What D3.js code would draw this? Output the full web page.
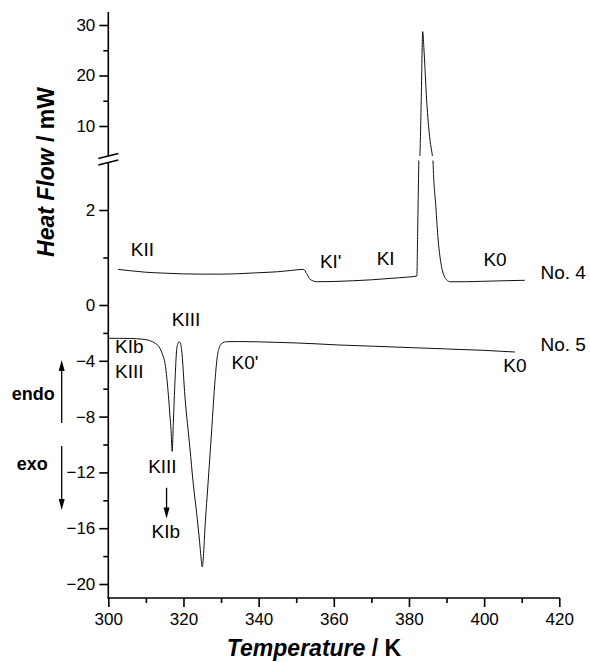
<!DOCTYPE html>
<html>
<head>
<meta charset="utf-8">
<script src="https://cdn.jsdelivr.net/npm/d3@7"></script>
<style>
  body { margin: 0; background: #fff; }
  text { font-family: "Liberation Sans", Arial, sans-serif; fill: #000; }
</style>
</head>
<body>
<div class="canvas"></div>
<script>
// DSC traces (T in K, heat flow in mW)
const tempNo4 = [302.6, 306, 310, 315, 320, 325, 330, 335, 340, 345, 349, 351.9, 352.8, 353.7, 355.5,
  360, 365, 370, 375, 380, 382.1, 382.3, 382.63, 382.9, 383.26, 383.66, 384.0, 384.7, 385.6, 386.2,
  386.4, 387.15, 387.77, 388.67, 390.0, 391, 395, 400, 405, 410.8];
const heatNo4 = [0.75, 0.72, 0.69, 0.67, 0.655, 0.65, 0.65, 0.66, 0.68, 0.70, 0.73, 0.75, 0.66, 0.54, 0.49,
  0.495, 0.51, 0.53, 0.56, 0.59, 0.61, 1.5, 3.05, 4.3, 15, 28.7, 25.0, 15.1, 7.2, 4.26,
  3.05, 2.07, 1.37, 0.81, 0.53, 0.49, 0.49, 0.5, 0.51, 0.52];

const tempNo5 = [300, 303, 306, 309, 311, 312.5, 313.5, 314.5, 315.1, 315.6, 316.0, 316.4, 316.7, 317.0,
  317.3, 317.75, 318.2, 318.6, 318.9, 319.2, 319.5, 320.4, 321.7, 322.6, 323.5, 324.3, 324.65, 325.0,
  325.4, 325.7, 326.6, 327.5, 328.4, 329.0, 329.6, 330.2, 331.5, 335, 340, 345, 350, 355, 361.6,
  370, 380, 390, 400, 408.2];
const heatNo5 = [-2.39, -2.39, -2.40, -2.45, -2.55, -2.75, -3.0, -3.6, -4.2, -5.3, -6.5, -7.9, -9.0, -10.5,
  -8.5, -5.4, -3.2, -2.7, -2.63, -2.75, -3.2, -6.6, -10.2, -12.8, -14.9, -17.0, -18.05, -18.77,
  -17.6, -16.1, -12.55, -9.0, -5.4, -3.7, -3.0, -2.75, -2.63, -2.62, -2.64, -2.68, -2.72, -2.78, -2.87,
  -2.95, -3.05, -3.15, -3.25, -3.37];

const xTicks = [300, 320, 340, 360, 380, 400, 420];
const xMinor = [310, 330, 350, 370, 390, 410];
const yTopTicks = [10, 20, 30];
const yTopMinor = [15, 25];
const yMidTicks = [2];
const yMidMinor = [1];
const yLowTicks = [0, -4, -8, -12, -16, -20];
const yLowMinor = [-2, -6, -10, -14, -18];

const phaseLabels = [
  { text: "KII", t: 306, v: 1.03, s: "mid" },
  { text: "KI'", t: 356.3, v: 0.78, s: "mid" },
  { text: "KI", t: 371.4, v: 0.84, s: "mid" },
  { text: "K0", t: 399.8, v: 0.82, s: "mid" },
  { text: "No. 4", t: 415, v: 0.55, s: "mid" },
  { text: "No. 5", t: 415, v: -3.27, s: "low" },
  { text: "K0", t: 405.1, v: -4.8, s: "low" },
  { text: "KIII", t: 316.9, v: -1.47, s: "low" },
  { text: "K0'", t: 332.8, v: -4.6, s: "low" },
  { text: "KIb", t: 301.8, v: -3.45, s: "low" },
  { text: "KIII", t: 301.8, v: -5.25, s: "low" },
  { text: "KIII", t: 310.6, v: -12.03, s: "low" },
  { text: "KIb", t: 311.5, v: -16.7, s: "low" }
];

const width = 590, height = 662;
const axisTop = 12, breakTop = 156.5, breakBottom = 162, axisBottom = 598;

const svg = d3.select(".canvas").append("svg")
  .attr("width", width)
  .attr("height", height);

const x = d3.scaleLinear().domain([300, 420]).range([108.3, 559.3]);
// three pieces of the y axis: peak part, No. 4 baseline part, No. 5 part
const yTop = d3.scaleLinear().domain([10, 30]).range([126, 25]);
const yMid = d3.scaleLinear().domain([0, 2]).range([305, 210]);
const yLow = d3.scaleLinear().domain([-20, 0]).range([584, 305]);
const yScales = { mid: yMid, low: yLow };

// clip regions either side of the break
const defs = svg.append("defs");
defs.append("clipPath").attr("id", "clipTop")
  .append("rect").attr("x", 0).attr("y", 0).attr("width", width).attr("height", 156);
defs.append("clipPath").attr("id", "clipMid")
  .append("rect").attr("x", 0).attr("y", 160.5).attr("width", width).attr("height", height);

const no4 = tempNo4.map((t, i) => [t, heatNo4[i]]);
const no5 = tempNo5.map((t, i) => [t, heatNo5[i]]);

const lineWith = (ys) => d3.line()
  .x((d) => x(d[0]))
  .y((d) => ys(d[1]))
  .curve(d3.curveMonotoneX);

const curves = svg.append("g")
  .attr("fill", "none")
  .attr("stroke", "#111")
  .attr("stroke-width", 1);

curves.append("path").attr("d", lineWith(yTop)(no4)).attr("clip-path", "url(#clipTop)");
curves.append("path").attr("d", lineWith(yMid)(no4)).attr("clip-path", "url(#clipMid)");
curves.append("path").attr("d", lineWith(yLow)(no5));

// axes
const axisG = svg.append("g");
const x0 = x(300);

const leftAxis = (scale, major, minor) => {
  const g = axisG.append("g").attr("transform", `translate(${x0},0)`);
  g.call(d3.axisLeft(scale).tickValues(major).tickSize(9).tickPadding(4).tickFormat(d3.format("d")));
  g.append("g").call(d3.axisLeft(scale).tickValues(minor).tickSize(5).tickFormat(""));
  g.selectAll(".domain").remove();
  return g;
};
leftAxis(yTop, yTopTicks, yTopMinor);
leftAxis(yMid, yMidTicks, yMidMinor);
leftAxis(yLow, yLowTicks, yLowMinor);

const xg = axisG.append("g").attr("transform", `translate(0,${axisBottom})`);
xg.call(d3.axisBottom(x).tickValues(xTicks).tickSize(9).tickPadding(6).tickFormat(d3.format("d")));
xg.append("g").call(d3.axisBottom(x).tickValues(xMinor).tickSize(5).tickFormat(""));
xg.selectAll(".domain").remove();

axisG.selectAll("text").attr("font-size", 17).attr("fill", "#000")
  .style("font-family", '"Liberation Sans", Arial, sans-serif');

// axis lines with the break
axisG.append("line").attr("x1", x0).attr("x2", x0).attr("y1", axisTop).attr("y2", breakTop);
axisG.append("line").attr("x1", x0).attr("x2", x0).attr("y1", breakBottom).attr("y2", axisBottom + 0.75);
axisG.append("line").attr("x1", x0 - 0.75).attr("x2", x(420) + 0.75).attr("y1", axisBottom).attr("y2", axisBottom);
axisG.append("line").attr("x1", x0 - 10).attr("x2", x0 + 10).attr("y1", 158.5).attr("y2", 153.5);
axisG.append("line").attr("x1", x0 - 10).attr("x2", x0 + 10).attr("y1", 165).attr("y2", 160);
axisG.selectAll("line").attr("stroke", "#000").attr("stroke-width", 1.6);

// phase labels
svg.append("g").selectAll("text")
  .data(phaseLabels)
  .join("text")
  .attr("x", (d) => x(d.t))
  .attr("y", (d) => yScales[d.s](d.v))
  .attr("font-size", 19)
  .text((d) => d.text);

// transition arrow KIII -> KIb, and endo / exo arrows
const arrows = svg.append("g").attr("stroke", "#000").attr("fill", "#000");
const arrow = (ax, y1, y2) => {
  const dir = y2 > y1 ? 1 : -1;
  arrows.append("line").attr("x1", ax).attr("x2", ax).attr("y1", y1).attr("y2", y2 - dir * 8)
    .attr("stroke-width", 1.3);
  arrows.append("path").attr("stroke", "none")
    .attr("d", `M${ax},${y2} L${ax - 3},${y2 - dir * 11} L${ax + 3},${y2 - dir * 11} Z`);
};
arrow(x(315.5), yLow(-13.1), yLow(-15.3));
arrow(61.7, 423, 360);
arrow(61.7, 446, 510);

svg.append("text").attr("x", 11.7).attr("y", 400).attr("font-size", 18).attr("font-weight", "bold").text("endo");
svg.append("text").attr("x", 16.7).attr("y", 470).attr("font-size", 18).attr("font-weight", "bold").text("exo");

// axis titles
const xTitle = svg.append("text")
  .attr("x", 314)
  .attr("y", 656)
  .attr("text-anchor", "middle")
  .attr("font-size", 23)
  .attr("font-weight", "bold");
xTitle.append("tspan").attr("font-style", "italic").text("Temperature");
xTitle.append("tspan").text(" / K");

const yTitle = svg.append("text")
  .attr("transform", "translate(54,172) rotate(-90)")
  .attr("text-anchor", "middle")
  .attr("font-size", 23)
  .attr("font-weight", "bold");
yTitle.append("tspan").attr("font-style", "italic").text("Heat Flow");
yTitle.append("tspan").text(" / mW");
</script>
</body>
</html>
